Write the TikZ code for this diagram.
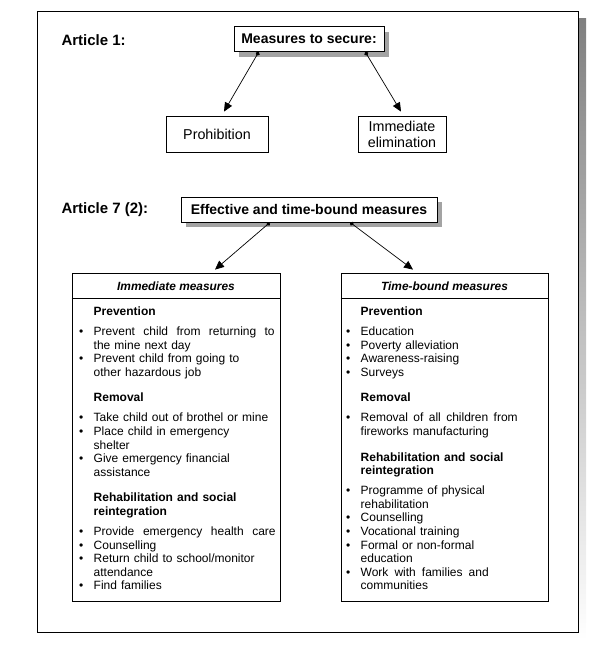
\documentclass[tikz,border=0pt]{standalone}
\usepackage{fontspec}
\setmainfont{Liberation Sans}
\usetikzlibrary{arrows.meta,calc,shadows}
\definecolor{shade}{gray}{0.64}
\newcommand{\hd}[1]{\hspace*{14.5pt}\textbf{#1}}
\newcommand{\bl}[1]{\makebox[14.5pt][l]{\textbullet}#1}
\newcommand{\ct}[1]{\hspace*{14.5pt}#1}
\newcommand{\js}[2]{\makebox[#1][s]{#2}}
\begin{document}
\begin{tikzpicture}[x=1pt,y=-1pt,
  titlefont/.style={font=\fontsize{14}{16}\selectfont\bfseries},
  artfont/.style={font=\fontsize{15}{17}\selectfont\bfseries},
  sbox/.style={draw=black, line width=0.8pt, fill=white, inner sep=0pt,
    drop shadow={shadow xshift=5pt, shadow yshift=-5pt, opacity=1, fill=shade}},
  pbox/.style={draw=black, line width=0.8pt, fill=white, inner sep=0pt,
    font=\fontsize{14.3}{16}\selectfont, align=center},
  bigbox/.style={draw=black, line width=0.8pt, fill=white, inner sep=0pt},
  hdr/.style={font=\fontsize{11.9}{13.6}\selectfont\bfseries\itshape},
  body/.style={font={\fontsize{12}{13.6}\selectfont\spaceskip=0.34em plus 0.4em minus 0.04em\relax}, align=left, inner sep=0pt, anchor=north west},
  conn/.style={line width=0.7pt, {Circle[length=4.2pt]}-{Triangle[length=9pt,width=8pt]}}]
\useasboundingbox (0,0) rectangle (597,645);
% outer frame
\fill[shade] (44,18) rectangle (586,640);
\draw[fill=white, line width=1pt] (37,11) rectangle (578,632);

% Article 1
\node[artfont, anchor=west] (art1) at (58,40) {Article 1:};
\node[sbox, titlefont, minimum width=150pt, minimum height=25pt] (mts) at (309,39) {Measures to secure:};
\node[pbox, minimum width=102pt, minimum height=36pt] (prohib) at (217,134) {Prohibition};
\node[pbox, minimum width=88pt, minimum height=36pt] (elim) at (402,134) {Immediate\\elimination};
\draw[conn] ($(mts.south west)!0.167!(mts.south east)$) -- ($(prohib.north)+(7,-4)$);
\draw[conn] ($(mts.south west)!0.873!(mts.south east)$) -- ($(elim.north)+(-1,-4)$);

% Article 7 (2)
\node[artfont, anchor=west] (art7) at (58,210) {Article 7 (2):};
\node[sbox, titlefont, minimum width=256pt, minimum height=25pt] (eff) at (309,209.5) {Effective and time-bound measures};

% big boxes
\node[bigbox, minimum width=208pt, minimum height=328pt] (lbox) at (176,437) {};
\node[bigbox, minimum width=207pt, minimum height=328pt] (rbox) at (444.5,437) {};
\draw[line width=0.8pt] ($(lbox.north west)+(0,26)$) -- ($(lbox.north east)+(0,26)$);
\draw[line width=0.8pt] ($(rbox.north west)+(0,26)$) -- ($(rbox.north east)+(0,26)$);
\node[hdr] (lhdr) at (176,286) {Immediate measures};
\node[hdr] (rhdr) at (444.5,286) {Time-bound measures};

\draw[conn] ($(eff.south west)!0.348!(eff.south east)$) -- ($(lbox.north)+(39,-3)$);
\draw[conn] ($(eff.south west)!0.66!(eff.south east)$) -- ($(rbox.north)+(-31.5,-3)$);

\node[body] (lbody) at (79,306.6) {%
\hd{Prevention}\\[6.4pt]
\bl{\js{181pt}{Prevent child from returning to}}\\
\ct{the mine next day}\\
\bl{Prevent child from going to}\\
\ct{other hazardous job}\\[12pt]
\hd{Removal}\\[6.4pt]
\bl{Take child out of brothel or mine}\\
\bl{Place child in emergency}\\
\ct{shelter}\\
\bl{Give emergency financial}\\
\ct{assistance}\\[12pt]
\hd{Rehabilitation and social}\\
\hd{reintegration}\\[6.4pt]
\bl{\js{182pt}{Provide emergency health care}}\\
\bl{Counselling}\\
\bl{Return child to school/monitor}\\
\ct{attendance}\\
\bl{Find families}};

\node[body] (rbody) at (346,306.6) {%
\hd{Prevention}\\[6.4pt]
\bl{Education}\\
\bl{Poverty alleviation}\\
\bl{Awareness-raising}\\
\bl{Surveys}\\[12pt]
\hd{Removal}\\[6.4pt]
\bl{\js{157pt}{Removal of all children from}}\\
\ct{fireworks manufacturing}\\[12pt]
\hd{Rehabilitation and social}\\
\hd{reintegration}\\[6.4pt]
\bl{Programme of physical}\\
\ct{rehabilitation}\\
\bl{Counselling}\\
\bl{Vocational training}\\
\bl{Formal or non-formal}\\
\ct{education}\\
\bl{\js{128pt}{Work with families and}}\\
\ct{communities}};
\end{tikzpicture}
\end{document}
